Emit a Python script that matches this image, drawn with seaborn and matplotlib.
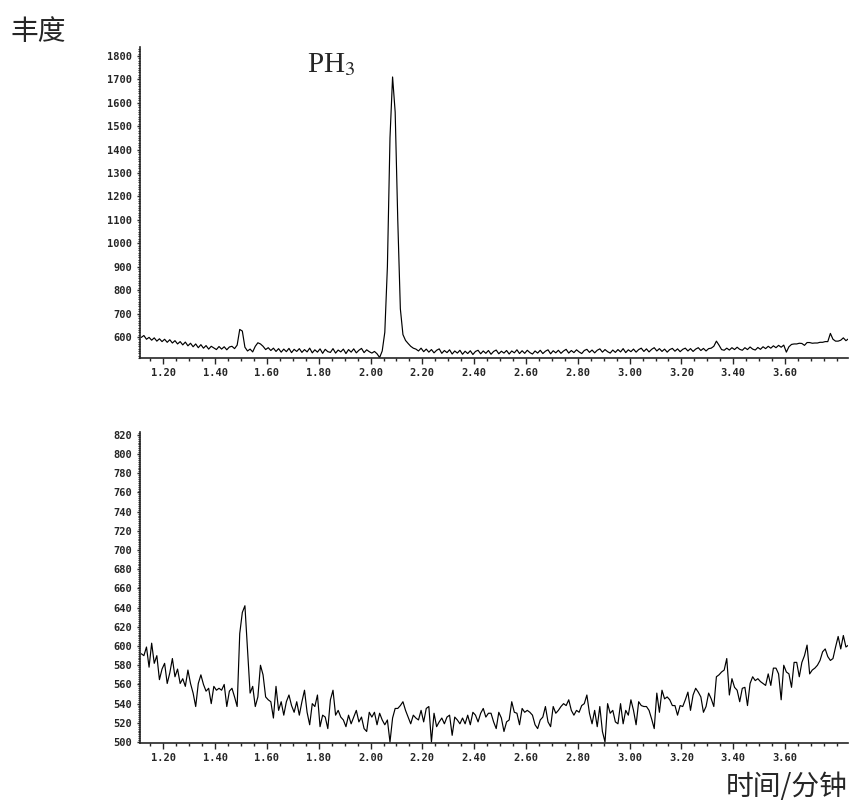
import numpy as np
import matplotlib
matplotlib.use("Agg")
import matplotlib.pyplot as plt
from matplotlib.ticker import MultipleLocator, FixedLocator
import seaborn as sns

# sampling grid of the chromatograms (minutes)
t_start = 1.115
t_step = 0.01

# upper trace: sample with PH3 peak
top_signal = [
    598, 606, 590, 598, 586, 596, 582, 592, 580, 590,
    577, 588, 574, 584, 570, 580, 566, 578, 562, 573,
    558, 570, 554, 567, 552, 563, 548, 560, 553, 546,
    559, 548, 558, 545, 557, 560, 550, 565, 632, 625,
    556, 540, 548, 536, 560, 575, 570, 560, 546, 554,
    542, 552, 538, 550, 535, 548, 537, 551, 533, 547,
    538, 550, 534, 546, 536, 552, 532, 545, 535, 549,
    530, 547, 537, 534, 550, 531, 544, 536, 548, 529,
    546, 535, 549, 532, 543, 551, 533, 545, 537, 531,
    538, 528, 512, 540, 620, 900, 1450, 1710, 1560, 1100,
    720, 610, 585, 572, 560, 552, 548, 540, 552, 537,
    548, 535, 546, 532, 543, 549, 530, 542, 533, 545,
    527, 540, 531, 543, 526, 539, 529, 541, 525, 538,
    543, 528, 540, 530, 542, 526, 538, 544, 528, 539,
    531, 542, 527, 540, 532, 545, 529, 541, 530, 543,
    533, 527, 540, 531, 543, 529, 539, 545, 528, 541,
    532, 543, 530, 540, 547, 531, 542, 533, 545, 536,
    529, 542, 547, 534, 544, 532, 543, 549, 535, 546,
    537, 531, 544, 534, 546, 536, 550, 533, 545, 537,
    548, 535, 546, 552, 538, 549, 536, 547, 554, 540,
    550, 538, 548, 535, 546, 551, 539, 549, 537, 547,
    552, 540, 550, 538, 548, 554, 542, 551, 540, 550,
    552, 560, 582, 565, 546, 543, 552, 544, 554, 546,
    556, 547, 543, 554, 546, 557, 548, 544, 555, 547,
    558, 550, 560, 552, 562, 554, 564, 556, 565, 535,
    558, 568, 570, 570, 573, 572, 564, 576, 576, 573,
    574, 574, 577, 577, 580, 580, 615, 590, 582, 582,
    586, 596, 584, 592,
]

# lower trace: blank
bottom_signal = [
    592, 590, 599, 578, 603, 582, 590, 565, 576, 582,
    561, 572, 587, 568, 576, 561, 566, 558, 575, 561,
    551, 537, 561, 570, 560, 553, 556, 540, 558, 554,
    556, 554, 560, 537, 553, 556, 547, 537, 613, 635,
    642, 596, 551, 558, 537, 547, 580, 570, 547, 544,
    542, 525, 558, 533, 542, 528, 542, 549, 538, 531,
    542, 528, 542, 554, 531, 518, 540, 537, 549, 516,
    528, 526, 514, 544, 554, 528, 533, 526, 523, 516,
    528, 519, 526, 533, 521, 526, 514, 511, 531, 526,
    531, 518, 530, 523, 518, 523, 500, 525, 535, 535,
    538, 542, 533, 526, 519, 528, 525, 523, 533, 521,
    535, 537, 500, 530, 516, 521, 525, 519, 526, 528,
    507, 526, 523, 519, 525, 519, 528, 518, 531, 528,
    521, 530, 535, 526, 530, 530, 521, 514, 531, 525,
    511, 521, 523, 542, 531, 530, 518, 535, 531, 533,
    531, 528, 518, 514, 523, 526, 537, 521, 516, 537,
    530, 533, 537, 540, 538, 544, 533, 528, 533, 531,
    538, 540, 549, 530, 519, 533, 516, 537, 511, 500,
    540, 530, 533, 521, 519, 540, 519, 533, 528, 544,
    533, 518, 542, 538, 537, 537, 533, 524, 514, 551,
    531, 554, 545, 547, 544, 538, 538, 528, 538, 537,
    544, 552, 533, 549, 556, 552, 547, 531, 537, 551,
    545, 537, 568, 570, 573, 575, 587, 549, 566, 557,
    554, 542, 556, 557, 538, 561, 568, 564, 566, 563,
    561, 559, 571, 559, 577, 577, 571, 544, 580, 573,
    571, 557, 583, 583, 568, 583, 590, 601, 571, 575,
    577, 580, 585, 594, 597, 589, 585, 587, 599, 610,
    597, 611, 599, 601,
]

x_major = [1.20, 1.40, 1.60, 1.80, 2.00, 2.20, 2.40, 2.60, 2.80, 3.00, 3.20, 3.40, 3.60]
top_yticks = [600, 700, 800, 900, 1000, 1100, 1200, 1300, 1400, 1500, 1600, 1700, 1800]
bottom_yticks = [500, 520, 540, 560, 580, 600, 620, 640, 660, 680, 700, 720, 740, 760, 780, 800, 820]

sns.set_style("ticks")
plt.rcParams["mathtext.fontset"] = "stix"
cjk = ["Noto Sans CJK SC", "DejaVu Sans"]
tick_font = "DejaVu Sans Mono"

fig = plt.figure(figsize=(8.49, 8.01), dpi=100)
ax_top = fig.add_axes([140 / 849, 1 - 358 / 801, 708 / 849, 311 / 801])
ax_bot = fig.add_axes([140 / 849, 1 - 743 / 801, 708 / 849, 311 / 801])


def style_axis(ax, values, yticks, ylim, yminor):
    times = t_start + t_step * np.arange(len(values))
    sns.lineplot(x=times, y=values, ax=ax, color="black", linewidth=0.85, estimator=None)
    ax.set_xlim(1.11, 3.843)
    ax.set_ylim(*ylim)
    sns.despine(ax=ax)
    ax.spines["left"].set_linewidth(1.2)
    ax.spines["bottom"].set_linewidth(1.2)
    ax.xaxis.set_major_locator(FixedLocator(x_major))
    ax.xaxis.set_minor_locator(MultipleLocator(0.05))
    ax.set_xticklabels([f"{v:.2f}" for v in x_major], fontfamily=tick_font,
                       fontsize=7.5, fontweight="bold")
    ax.yaxis.set_major_locator(FixedLocator(yticks))
    ax.yaxis.set_minor_locator(MultipleLocator(yminor))
    ax.set_yticklabels([str(v) for v in yticks], fontfamily=tick_font,
                       fontsize=7.5, fontweight="bold")
    ax.tick_params(axis="x", which="major", direction="out", length=4, width=1, pad=3)
    ax.tick_params(axis="x", which="minor", direction="out", length=2.5, width=1)
    ax.tick_params(axis="y", which="major", direction="out", length=2.5, width=1, pad=3)
    ax.tick_params(axis="y", which="minor", direction="out", length=1.5, width=0.8)
    ax.set_xlabel("")
    ax.set_ylabel("")
    ax.patch.set_alpha(0)


style_axis(ax_top, top_signal, top_yticks, (510, 1838), 10)
style_axis(ax_bot, bottom_signal, bottom_yticks, (499, 823), 2)

fig.text(10 / 849, 1 - 40 / 801, "丰度", family=cjk, fontsize=20, ha="left", va="baseline")
fig.text(307 / 849, 1 - 72 / 801, r"PH$_3$", family="Liberation Serif", fontsize=21,
         ha="left", va="baseline")
fig.text(848 / 849, 1 - 795 / 801, "时间/分钟", family=cjk, fontsize=20, ha="right", va="baseline")

fig.savefig("out.png", dpi=100)
